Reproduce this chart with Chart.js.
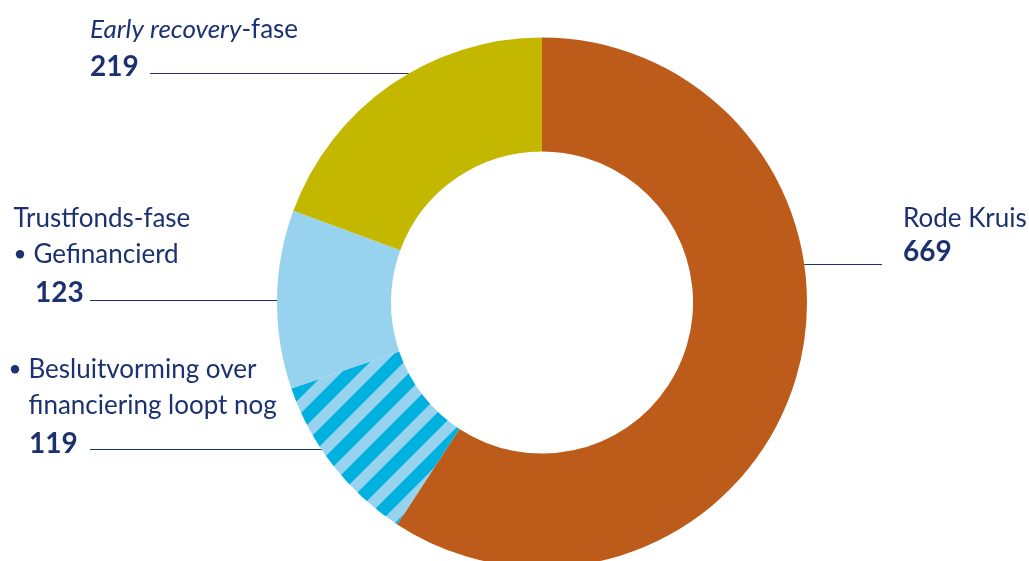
<!DOCTYPE html>
<html>
<head>
<meta charset="utf-8">
<script src="https://cdn.jsdelivr.net/npm/chart.js@4.4.1/dist/chart.umd.min.js"></script>
<style>
  html, body { margin: 0; padding: 0; background: #ffffff; overflow: hidden; }
  #wrap { position: relative; width: 1029px; height: 600px; }
</style>
</head>
<body>
<div id="wrap"><canvas id="c"></canvas></div>
<script>
// ---- data ----
const categories = ['Rode Kruis', 'Besluitvorming over financiering loopt nog', 'Trustfonds-fase – Gefinancierd', 'Early recovery-fase'];
const values = [669, 119, 123, 219];
const valueLabels = ['669', '119', '123', '219'];

// ---- styles ----
const NAVY = '#1c3170';
const ORANGE = '#bd5b1a';
const OLIVE = '#c3b700';
const LIGHTBLUE = '#97d3ee';
const CYAN = '#00b1e0';

function stripePattern() {
  const p = 34, w = 18;
  const c = document.createElement('canvas');
  c.width = p; c.height = p;
  const g = c.getContext('2d');
  g.fillStyle = LIGHTBLUE;
  g.fillRect(0, 0, p, p);
  g.fillStyle = CYAN;
  for (let k = -1; k <= 2; k++) {
    g.beginPath();
    g.moveTo(k * p, 0);
    g.lineTo(k * p + w, 0);
    g.lineTo(k * p + w - p, p);
    g.lineTo(k * p - p, p);
    g.closePath();
    g.fill();
  }
  return g.createPattern(c, 'repeat');
}

const FONT = 'Lato, "Open Sans", sans-serif';

// label layout: text lines, and leader line y
const labelLayout = [
  { idx: 0, side: 'right', lineY: 264.5, lineEnd: 882,
    lines: [ { x: 903, y: 226.7, parts: [{ t: 'Rode Kruis', f: '400 26px ' + FONT }] },
             { x: 903, y: 261, parts: [{ t: valueLabels[0], f: '700 28px ' + FONT }] } ] },
  { idx: 1, side: 'left', lineY: 449.5, lineStart: 90,
    lines: [ { x: 28.5, y: 378.3, bullet: 15, parts: [{ t: 'Besluitvorming over', f: '400 26px ' + FONT }] },
             { x: 28.5, y: 413.5, parts: [{ t: 'financiering loopt nog', f: '400 26px ' + FONT }] },
             { x: 29, y: 453.3, parts: [{ t: valueLabels[1], f: '700 28px ' + FONT }] } ] },
  { idx: 2, side: 'left', lineY: 300.5, lineStart: 90,
    lines: [ { x: 13.5, y: 226.7, parts: [{ t: 'Trustfonds-fase', f: '400 26px ' + FONT }] },
             { x: 33.5, y: 263.3, bullet: 20, parts: [{ t: 'Gefinancierd', f: '400 26px ' + FONT }] },
             { x: 35, y: 302.3, parts: [{ t: valueLabels[2], f: '700 28px ' + FONT }] } ] },
  { idx: 3, side: 'left', lineY: 73.5, lineStart: 150,
    lines: [ { x: 90, y: 37.7, parts: [{ t: 'Early recovery', f: 'italic 400 26px ' + FONT }, { t: '-fase', f: '400 26px ' + FONT }] },
             { x: 90, y: 76, parts: [{ t: valueLabels[3], f: '700 28px ' + FONT }] } ] }
];

const labelPlugin = {
  id: 'labels',
  afterDraw(chart) {
    const ctx = chart.ctx;
    const meta = chart.getDatasetMeta(0);
    const arc = meta.data[0];
    const cx = arc.x, cy = arc.y, R = arc.outerRadius;
    ctx.save();
    ctx.strokeStyle = NAVY;
    ctx.lineWidth = 1.2;
    ctx.fillStyle = NAVY;
    ctx.textBaseline = 'alphabetic';
    ctx.textAlign = 'left';
    labelLayout.forEach(L => {
      const dy = L.lineY - cy;
      const dx = Math.sqrt(Math.max(R * R - dy * dy, 0));
      ctx.beginPath();
      if (L.side === 'left') {
        ctx.moveTo(L.lineStart, L.lineY);
        ctx.lineTo(cx - dx, L.lineY);
      } else {
        ctx.moveTo(cx + dx, L.lineY);
        ctx.lineTo(L.lineEnd, L.lineY);
      }
      ctx.stroke();
      L.lines.forEach(ln => {
        let x = ln.x;
        if (ln.bullet !== undefined) {
          ctx.beginPath();
          ctx.arc(ln.bullet, ln.y - 9, 4.2, 0, Math.PI * 2);
          ctx.fill();
        }
        ln.parts.forEach(p => {
          ctx.font = p.f;
          ctx.fillText(p.t, x, ln.y);
          x += ctx.measureText(p.t).width;
        });
      });
    });
    ctx.restore();
  }
};

new Chart(document.getElementById('c'), {
  type: 'doughnut',
  data: {
    labels: categories,
    datasets: [{
      data: values,
      backgroundColor: [ORANGE, stripePattern(), LIGHTBLUE, OLIVE],
      borderWidth: 0,
      hoverOffset: 0
    }]
  },
  options: {
    responsive: true,
    maintainAspectRatio: false,
    animation: false,
    cutout: '57%',
    layout: { padding: { left: 277, right: 222, top: 37.5, bottom: 32.5 } },
    plugins: { legend: { display: false }, tooltip: { enabled: false } },
    events: []
  },
  plugins: [labelPlugin]
});
</script>
</body>
</html>
